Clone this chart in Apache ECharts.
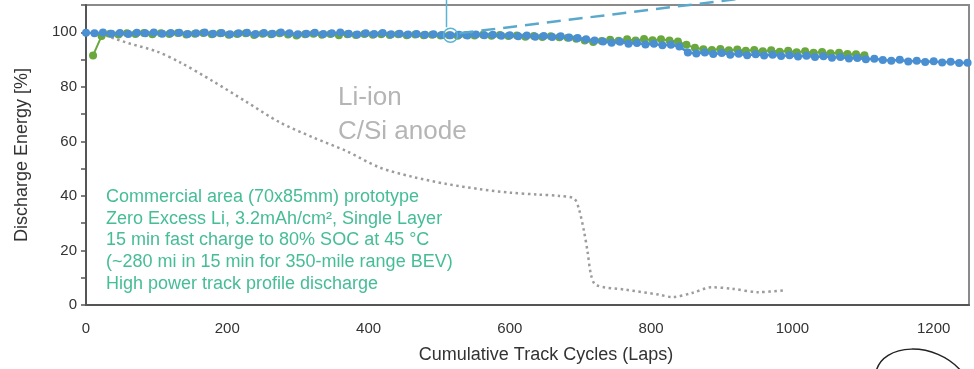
<!DOCTYPE html>
<html>
<head>
<meta charset="utf-8">
<script src="https://cdn.jsdelivr.net/npm/echarts@6/dist/echarts.min.js"></script>
<style>
  html, body { margin: 0; padding: 0; background: #fff; }
  #chart { width: 974px; height: 369px; }
</style>
</head>
<body>
<div id="chart"></div>
<script>
// Zero-excess Li cell, blue run
const blueLaps = [0, 12, 24, 36, 48, 60, 72, 84, 96, 108, 120, 132, 144, 156, 168, 180, 192, 204, 216, 228,
  240, 252, 264, 276, 288, 300, 312, 324, 336, 348, 360, 372, 384, 396, 408, 420, 432, 444, 456, 468,
  480, 492, 504, 516, 528, 540, 552, 564, 576, 588, 600, 612, 624, 636, 648, 660, 672, 684, 696, 708,
  720, 732, 744, 756, 768, 780, 792, 804, 816, 828, 840, 852, 864, 876, 888, 900, 912, 924, 936, 948,
  960, 972, 984, 996, 1008, 1020, 1032, 1044, 1056, 1068, 1080, 1092, 1104, 1116, 1128, 1140, 1152, 1164, 1176, 1188,
  1200, 1212, 1224, 1236, 1248];
const blueEnergy = [99.8, 99.6, 99.9, 99.5, 99.7, 99.4, 99.8, 99.6, 99.9, 99.5, 99.7, 99.8, 99.4, 99.6, 99.9, 99.5, 99.7, 99.3, 99.6, 99.8,
  99.4, 99.7, 99.5, 99.9, 99.6, 99.3, 99.5, 99.8, 99.4, 99.6, 99.9, 99.5, 99.2, 99.6, 99.4, 99.7, 99.3, 99.5, 99.2, 99.4,
  99.1, 99.3, 99.0, 98.9, 99.1, 98.8, 99.2, 98.9, 99.1, 98.7, 98.9, 98.5, 98.8, 98.4, 98.6, 98.3, 98.5, 98.1, 97.9, 97.4,
  97.0, 96.6, 96.2, 96.5, 95.8, 96.1, 95.5, 95.8, 95.2, 95.4, 94.8, 92.6, 92.2, 92.6, 92.0, 92.4, 91.8, 92.1, 91.6, 91.9,
  91.5, 91.8, 91.3, 91.6, 91.1, 91.4, 90.9, 91.2, 90.7, 90.9, 90.4, 90.6, 90.1, 90.3, 89.8, 89.6, 89.9, 89.3, 89.6, 89.1,
  89.4, 88.9, 89.2, 88.7, 88.8];

// Zero-excess Li cell, green run
const greenLaps = [10, 22, 34, 46, 58, 70, 82, 94, 106, 118, 130, 142, 154, 166, 178, 190, 202, 214, 226, 238,
  250, 262, 274, 286, 298, 310, 322, 334, 346, 358, 370, 382, 394, 406, 418, 430, 442, 454, 466, 478,
  490, 502, 514, 526, 538, 550, 562, 574, 586, 598, 610, 622, 634, 646, 658, 670, 682, 694, 706, 718,
  730, 742, 754, 766, 778, 790, 802, 814, 826, 838, 850, 862, 874, 886, 898, 910, 922, 934, 946, 958,
  970, 982, 994, 1006, 1018, 1030, 1042, 1054, 1066, 1078, 1090, 1102];
const greenEnergy = [91.5, 98.6, 99.5, 99.2, 99.6, 99.4, 99.7, 99.3, 99.6, 99.4, 99.7, 99.2, 99.5, 99.7, 99.3, 99.6, 99.1, 99.4, 99.6, 99.0,
  99.5, 99.3, 99.6, 99.2, 98.8, 99.3, 99.5, 99.1, 99.4, 98.9, 99.3, 99.0, 99.4, 99.1, 99.3, 99.0, 99.3, 98.9, 99.2, 98.9,
  99.1, 98.8, 98.9, 98.7, 99.0, 98.8, 99.1, 98.7, 99.0, 98.6, 98.8, 98.4, 98.6, 98.3, 98.5, 98.2, 98.0, 97.6, 97.0, 96.4,
  96.8, 97.3, 96.9, 97.4, 97.0, 97.5, 97.1, 97.4, 97.0, 96.6, 95.4, 94.3, 93.8, 93.5, 93.9, 93.4, 93.7, 93.2, 93.5, 93.0,
  93.4, 92.9, 93.2, 92.7, 93.0, 92.5, 92.8, 92.3, 92.5, 92.0, 91.9, 91.6];

// Li-ion C/Si anode reference cell
const liIonLaps = [20, 60, 100, 133, 180, 227, 274, 321, 369, 415, 462, 510, 557, 600, 640, 670, 691, 698, 705, 710,
  715, 722, 764, 811, 830, 858, 886, 914, 952, 988];
const liIonEnergy = [99.5, 96, 93, 89, 82, 74.5, 67, 61.5, 56.4, 50.5, 47, 44.4, 42.5, 41.2, 40.5, 40, 39, 35, 27, 19.6,
  11, 7.3, 5.6, 3.8, 2.9, 4.4, 6.5, 6, 4.7, 5.4];

const noteLines = [
  'Commercial area (70x85mm) prototype',
  'Zero Excess Li, 3.2mAh/cm², Single Layer',
  '15 min fast charge to 80% SOC at 45 °C',
  '(~280 mi in 15 min for 350-mile range BEV)',
  'High power track profile discharge'
];
const liIonText = ['Li-ion', 'C/Si anode'];
const calloutIndex = 43; // highlighted blue point

const zip = (xs, ys) => xs.map((x, i) => [x, ys[i]]);
const FONT = '"Liberation Sans", Arial, sans-serif';

const chart = echarts.init(document.getElementById('chart'), null, { renderer: 'canvas' });
chart.setOption({
  animation: false,
  grid: { left: 86, right: 5, top: 5, bottom: 63, show: true, borderColor: '#8a8a8a', borderWidth: 2 },
  xAxis: {
    type: 'value', min: 0, max: 1250, interval: 200,
    axisLine: { lineStyle: { color: '#555', width: 2 } },
    axisTick: { show: false },
    splitLine: { show: false },
    axisLabel: { margin: 16, fontSize: 15, color: '#333', fontFamily: FONT,
      formatter: v => (v % 200 === 0 ? String(v) : '') },
    name: 'Cumulative Track Cycles (Laps)', nameLocation: 'middle', nameGap: 41,
    nameTextStyle: { fontSize: 18, color: '#333', fontFamily: FONT, padding: [0, 0, 0, 37] }
  },
  yAxis: {
    type: 'value', min: 0, max: 110, interval: 10,
    axisLine: { show: true, lineStyle: { color: '#555', width: 2 } },
    axisTick: { show: true, length: 5, lineStyle: { color: '#555', width: 1.5 } },
    splitLine: { show: false },
    axisLabel: { margin: 9, fontSize: 15, color: '#333', fontFamily: FONT,
      formatter: v => (v % 20 === 0 ? String(v) : '') },
    name: 'Discharge Energy [%]', nameLocation: 'middle', nameGap: 55,
    nameTextStyle: { fontSize: 18, color: '#333', fontFamily: FONT }
  },
  series: [
    { type: 'line', name: 'Li-ion C/Si', data: zip(liIonLaps, liIonEnergy), smooth: 0.3, symbol: 'none',
      lineStyle: { color: '#9c9c9c', width: 2.5, type: [2.5, 3.5] }, z: 1 },
    { type: 'line', name: 'Cell B', data: zip(greenLaps, greenEnergy), symbol: 'circle', symbolSize: 8,
      itemStyle: { color: '#6aa83e' }, lineStyle: { color: '#6aa83e', width: 2 }, z: 2 },
    { type: 'line', name: 'Cell A', data: zip(blueLaps, blueEnergy), symbol: 'circle', symbolSize: 8,
      itemStyle: { color: '#4a8fd2' }, lineStyle: { color: '#4a8fd2', width: 2.5 }, z: 3 }
  ]
});

const p = chart.convertToPixel({ gridIndex: 0 }, [blueLaps[calloutIndex], blueEnergy[calloutIndex]]);
chart.setOption({
  graphic: [
    { type: 'text', left: 106, top: 186, z: 10,
      style: { text: noteLines.join('\n'), font: '18px ' + FONT, lineHeight: 21.8, fill: '#45bd96' } },
    { type: 'text', left: 338, top: 81, z: 10,
      style: { text: liIonText.join('\n'), font: '26px ' + FONT, lineHeight: 34, fill: '#b5b5b5' } },
    { type: 'circle', shape: { cx: p[0], cy: p[1], r: 7 }, z: 20,
      style: { fill: 'rgba(0,0,0,0)', stroke: '#5ab4d6', lineWidth: 1.5 } },
    { type: 'line', shape: { x1: p[0] - 4, y1: 0, x2: p[0] - 4, y2: p[1] - 8 }, z: 20,
      style: { stroke: '#5ab4d6', lineWidth: 1.5 } },
    { type: 'line', shape: { x1: p[0] + 9, y1: p[1] - 2, x2: p[0] + 293, y2: p[1] - 37 }, z: 20,
      style: { stroke: '#5aa8cc', lineWidth: 2.5, lineDash: [14, 8] } },
    { type: 'bezierCurve', z: 20,
      shape: { x1: 876, y1: 372, cpx1: 882, cpy1: 343, cpx2: 935, cpy2: 340, x2: 962, y2: 372 },
      style: { fill: 'none', stroke: '#222', lineWidth: 1.5 } }
  ]
});
</script>
</body>
</html>
